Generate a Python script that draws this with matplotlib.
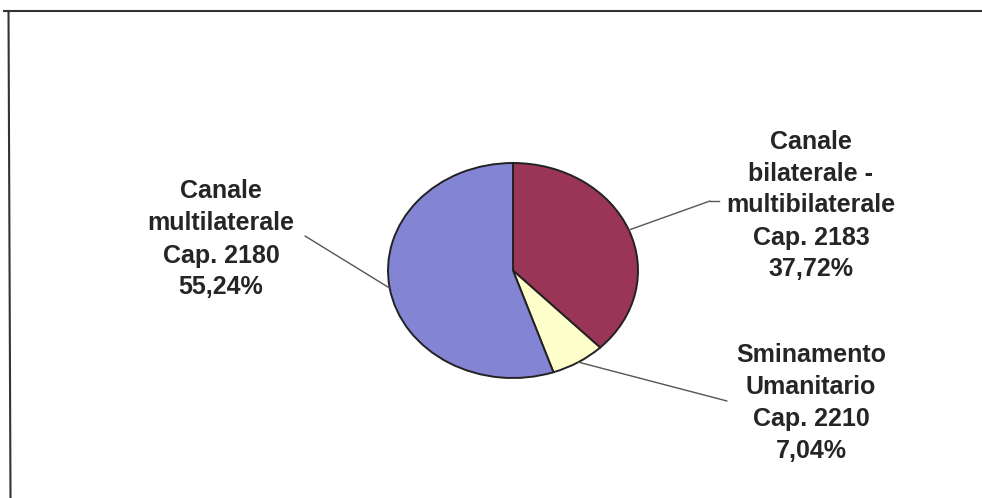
import numpy as np
import matplotlib
matplotlib.use("Agg")
import matplotlib.pyplot as plt
from matplotlib.lines import Line2D

plt.rcParams['font.family'] = ['Liberation Sans', 'DejaVu Sans']

# Share of funds by budget chapter
labels = [
    "Canale\nbilaterale -\nmultibilaterale\nCap. 2183\n37,72%",
    "Sminamento\nUmanitario\nCap. 2210\n7,04%",
    "Canale\nmultilaterale\nCap. 2180\n55,24%",
]
values = [37.72, 7.04, 55.24]
colors = ["#9a3558", "#ffffcc", "#8484d4"]

W, H = 982, 498
fig = plt.figure(figsize=(W / 100, H / 100), dpi=100)
fig.patch.set_facecolor("white")

# Pie axes (elliptical: axes box is wider than tall, aspect left free)
px_l, px_t, px_w, px_h = 388, 163, 250, 215
ax = fig.add_axes([px_l / W, (H - px_t - px_h) / H, px_w / W, px_h / H])
wedges, _ = ax.pie(values, colors=colors, startangle=90, counterclock=False,
                   radius=1.0,
                   wedgeprops=dict(edgecolor="#222222", linewidth=1.4))
ax.set_xlim(-1.0, 1.0)
ax.set_ylim(-1.0, 1.0)
ax.set_aspect("auto")
ax.axis("off")

# Label layout: (text centre x, first line centre y, leader end x, leader end y) in image pixels
layout = [
    (811, 139, 710, 201),
    (811, 352, 727, 401),
    (221, 189, 305, 236),
]
line_step = 32

for w, lab, (tx, ty, lx, ly) in zip(wedges, labels, layout):
    ang = np.deg2rad((w.theta1 + w.theta2) / 2.0)
    ax.annotate("", xy=(np.cos(ang), np.sin(ang)), xycoords="data",
                xytext=(lx, H - ly), textcoords="figure pixels",
                annotation_clip=False,
                arrowprops=dict(arrowstyle="-", color="#555555", lw=1.0,
                                shrinkA=0, shrinkB=0))
    for i, row in enumerate(lab.split("\n")):
        fig.text(tx / W, (H - ty - i * line_step) / H, row,
                 ha="center", va="center_baseline",
                 fontsize=18, fontweight="bold", color="#252525")

# Small horizontal tick at the outer end of the upper right leader
fig.add_artist(Line2D([710 / W, 719 / W], [(H - 201) / H, (H - 201) / H],
                      color="#555555", lw=1.0, transform=fig.transFigure))

# Chart frame (top and left edges)
fig.add_artist(Line2D([4 / W, 1.0], [(H - 11) / H, (H - 11) / H],
                      color="#333333", lw=1.5, transform=fig.transFigure))
fig.add_artist(Line2D([8.5 / W, 10.5 / W], [(H - 11) / H, 0.0],
                      color="#333333", lw=1.5, transform=fig.transFigure))

fig.savefig("out.png", dpi=100, facecolor="white")
